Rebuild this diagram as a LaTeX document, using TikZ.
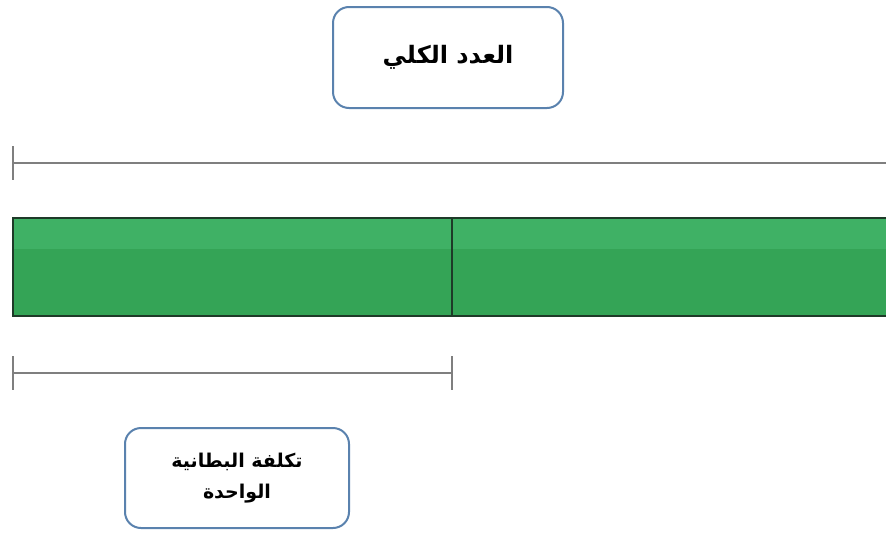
\documentclass[tikz,border=0pt]{standalone}
\usepackage{fontspec}
\usetikzlibrary{calc}
\TeXXeTstate=1
\newfontfamily\arabicfont[Script=Arabic]{DejaVu Sans}
\definecolor{boxblue}{HTML}{5A82AE}
\definecolor{greenlight}{HTML}{3FB165}
\definecolor{greendark}{HTML}{34A456}
\definecolor{barborder}{HTML}{1E3A28}
\definecolor{dimgray}{HTML}{7F7F7F}
\tikzset{
  labelbox/.style={draw=boxblue, line width=2pt, rounded corners=16pt, fill=white, align=center, font=\arabicfont\bfseries\fontsize{19}{31}\selectfont, inner sep=0pt},
  dimline/.style={draw=dimgray, line width=1.6pt},
  bartrace/.style={draw=barborder, line width=1.8pt}
}
\begin{document}
\begin{tikzpicture}[x=1pt,y=-1pt]
\useasboundingbox (0,0) rectangle (886,533);
% top label
\node[labelbox, minimum width=230pt, minimum height=101pt, font=\arabicfont\bfseries\fontsize{24}{30}\selectfont] (total) at (448,57.5) {\beginR العدد الكلي\endR};
% top dimension line
\coordinate (tl) at (13,163);
\coordinate (tr) at (892,163);
\draw[dimline] (tl) -- (tr);
\draw[dimline] ($(tl)+(0,-17)$) -- ($(tl)+(0,17)$);
% bar
\fill[greendark] (13,218) rectangle (892,316);
\fill[greenlight] (13,218) rectangle (892,249);
\draw[bartrace] (892,218) -- (13,218) -- (13,316) -- (892,316);
\draw[bartrace] (452,218) -- (452,316);
% bottom dimension line
\coordinate (bl) at (13,373);
\coordinate (br) at (452,373);
\draw[dimline] (bl) -- (br);
\draw[dimline] ($(bl)+(0,-17)$) -- ($(bl)+(0,17)$);
\draw[dimline] ($(br)+(0,-17)$) -- ($(br)+(0,17)$);
% bottom label
\node[labelbox, minimum width=224pt, minimum height=100pt] (unit) at (237,478) {\beginR تكلفة البطانية\endR\\\beginR الواحدة\endR};
\end{tikzpicture}
\end{document}
